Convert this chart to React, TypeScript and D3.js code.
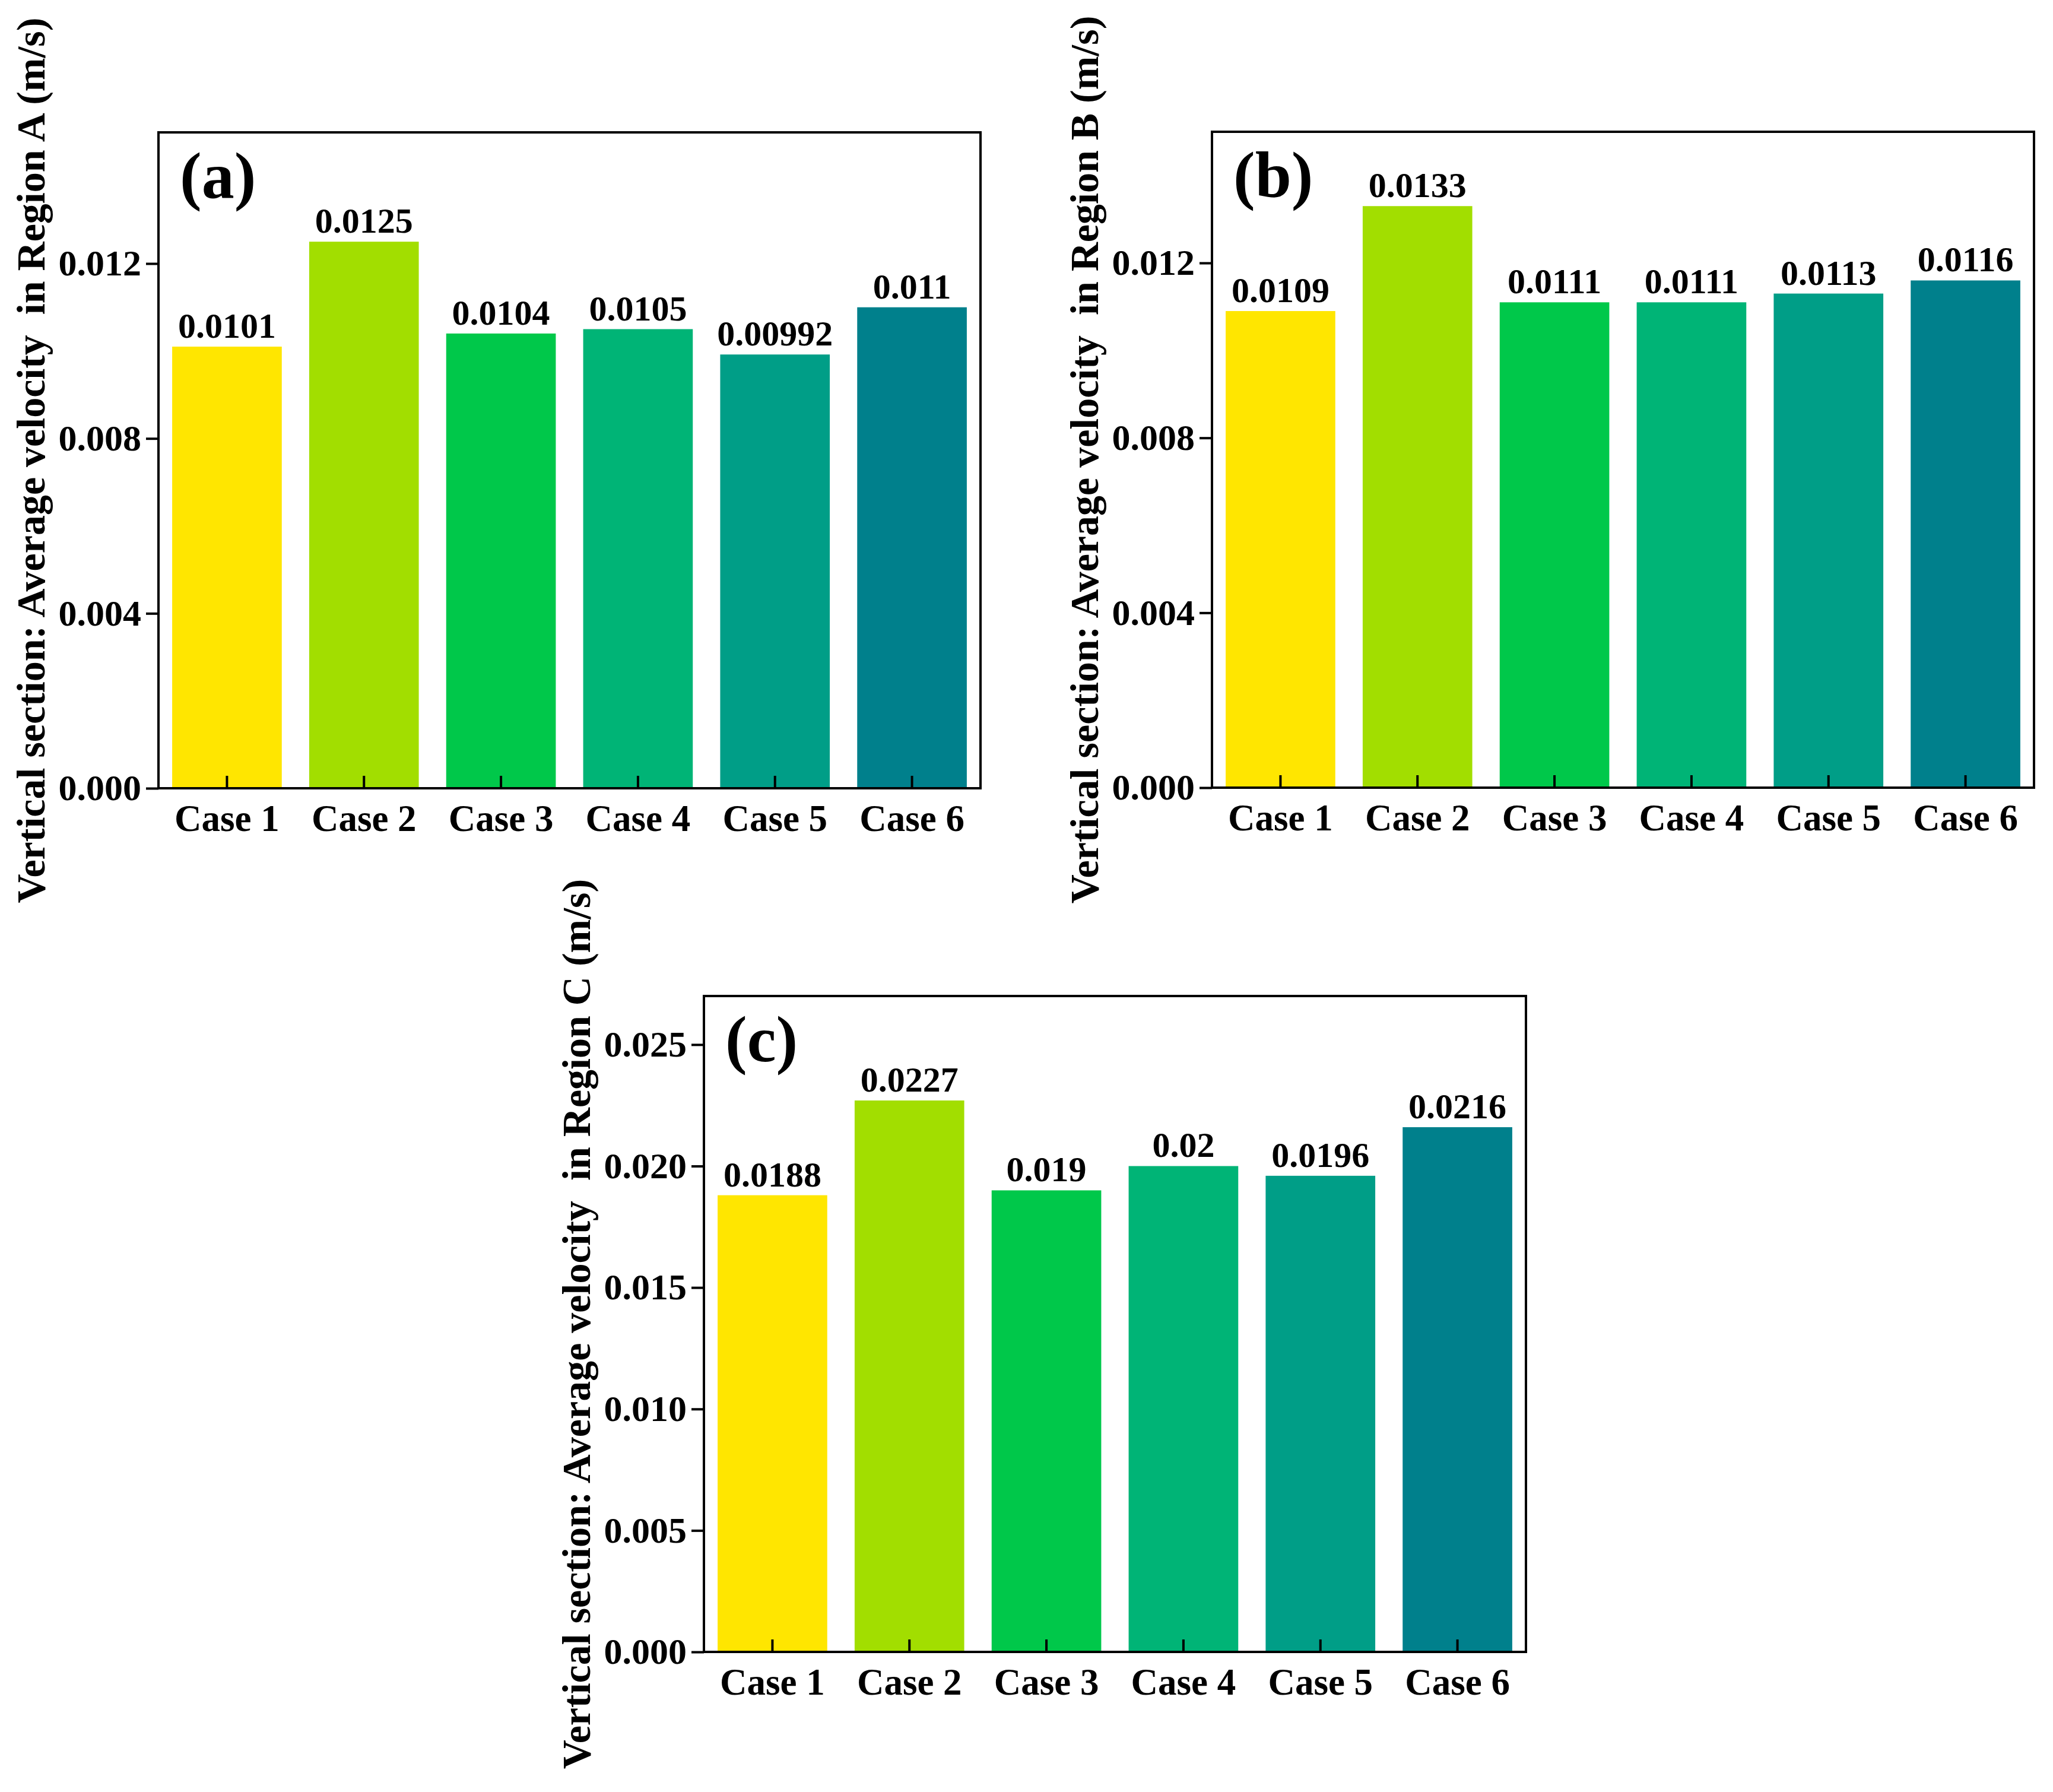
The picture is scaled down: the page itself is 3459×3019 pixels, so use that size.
import { useRef, useEffect } from 'react';
import { select, scaleLinear, scaleBand, axisLeft, axisBottom, format } from 'd3';

const cases = ['Case 1', 'Case 2', 'Case 3', 'Case 4', 'Case 5', 'Case 6'];
const colors = ['#FFE600', '#A2DE00', '#00C84A', '#00B476', '#009E87', '#00808C'];

const valuesA = [0.0101, 0.0125, 0.0104, 0.0105, 0.00992, 0.011];
const valuesB = [0.0109, 0.0133, 0.0111, 0.0111, 0.0113, 0.0116];
const valuesC = [0.0188, 0.0227, 0.019, 0.02, 0.0196, 0.0216];

const ticksAB = [0, 0.004, 0.008, 0.012];
const ticksC = [0, 0.005, 0.01, 0.015, 0.02, 0.025];

const FONT = '"Liberation Serif", "Times New Roman", serif';

type PanelProps = {
    x: number;
    y: number;
    values: number[];
    yMax: number;
    ticks: number[];
    tag: string;
    region: string;
};

const W = 1385;
const H = 1105;

function Panel({ x, y, values, yMax, ticks, tag, region }: PanelProps) {
    const gRef: { current: SVGGElement | null } = useRef(null);

    useEffect(() => {
        const g = select(gRef.current);
        g.selectAll('*').remove();

        const xScale = scaleBand().domain(cases).range([0, W]).paddingInner(0.2).paddingOuter(0.1);
        const yScale = scaleLinear().domain([0, yMax]).range([H, 0]);

        // bars
        g.selectAll('.bar')
            .data(values)
            .join('rect')
            .attr('class', 'bar')
            .attr('x', (d, i) => xScale(cases[i]) || 0)
            .attr('y', (d) => yScale(d))
            .attr('width', xScale.bandwidth())
            .attr('height', (d) => H - yScale(d))
            .attr('fill', (d, i) => colors[i]);

        // value labels
        g.selectAll('.val')
            .data(values)
            .join('text')
            .attr('class', 'val')
            .attr('x', (d, i) => (xScale(cases[i]) || 0) + xScale.bandwidth() / 2)
            .attr('y', (d) => yScale(d) - 15)
            .attr('text-anchor', 'middle')
            .style('font-family', FONT)
            .style('font-weight', 'bold')
            .style('font-size', '60px')
            .text((d) => String(d));

        // y axis, ticks outward
        const yAxis: any = axisLeft(yScale).tickValues(ticks).tickFormat(format('.3f')).tickSize(21).tickPadding(8);
        const ya = g.append('g').call(yAxis);
        ya.select('.domain').remove();
        ya.selectAll('line').attr('stroke', '#000').attr('stroke-width', 4);
        ya.selectAll('text')
            .style('font-family', FONT)
            .style('font-weight', 'bold')
            .style('font-size', '62px')
            .attr('fill', '#000');

        // x axis, ticks inward
        const xAxis: any = axisBottom(xScale).tickSize(-21).tickPadding(0);
        const xa = g.append('g').attr('transform', `translate(0,${H})`).call(xAxis);
        xa.select('.domain').remove();
        xa.selectAll('line').attr('stroke', '#000').attr('stroke-width', 4);
        xa.selectAll('text')
            .attr('y', 72)
            .attr('dy', null)
            .style('font-family', FONT)
            .style('font-weight', 'bold')
            .style('font-size', '63px')
            .attr('fill', '#000');

        // frame
        g.append('rect')
            .attr('x', 0)
            .attr('y', 0)
            .attr('width', W)
            .attr('height', H)
            .attr('fill', 'none')
            .attr('stroke', '#000')
            .attr('stroke-width', 4);

        // panel tag
        g.append('text')
            .attr('x', 36)
            .attr('y', 110)
            .style('font-family', FONT)
            .style('font-weight', 'bold')
            .style('font-size', '110px')
            .text(tag);

        // y axis title
        g.append('text')
            .attr('transform', `translate(-192,${H / 2}) rotate(-90)`)
            .attr('text-anchor', 'middle')
            .style('font-family', FONT)
            .style('font-weight', 'bold')
            .style('font-size', '68px')
            .style('white-space', 'pre')
            .text(`Vertical section: Average velocity  in Region ${region} (m/s)`);
    }, [values, yMax, ticks, tag, region]);

    return <g ref={gRef} transform={`translate(${x},${y})`} />;
}

export default function App() {
    return (
        <div style={{ position: 'absolute', left: 0, top: 0 }}>
            <svg width={3459} height={3019} style={{ display: 'block', background: '#fff' }}>
                <Panel x={267} y={223} values={valuesA} yMax={0.015} ticks={ticksAB} tag="(a)" region="A" />
                <Panel x={2042} y={222} values={valuesB} yMax={0.015} ticks={ticksAB} tag="(b)" region="B" />
                <Panel x={1186} y={1678} values={valuesC} yMax={0.027} ticks={ticksC} tag="(c)" region="C" />
            </svg>
        </div>
    );
}
